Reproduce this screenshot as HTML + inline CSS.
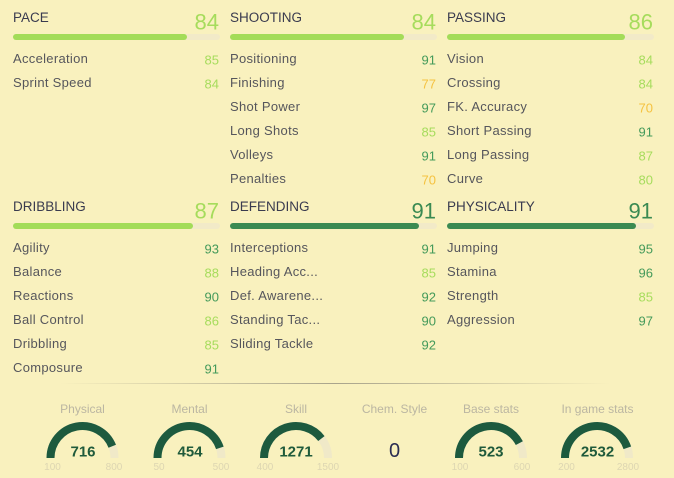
<!DOCTYPE html>
<html><head><meta charset="utf-8"><style>
html,body{margin:0;padding:0;background:#f9f1be;}
svg{display:block;}
text{font-family:"Liberation Sans",sans-serif;}
.h{font-size:13.5px;fill:#3a3b4f;}
.big{font-size:22px;text-anchor:end;}
.l{font-size:13px;fill:#56565c;letter-spacing:0.3px;}
.v{font-size:13px;text-anchor:end;}
.lg{fill:#a6dc5c;}
.dg{fill:#449a5a;}
.yl{fill:#f5c240;}
.gl{font-size:12px;fill:#bbb6a2;text-anchor:middle;}
.gv{font-size:15px;font-weight:bold;fill:#1f5a3b;text-anchor:middle;}
.mm{font-size:10px;fill:#ddd6b2;text-anchor:middle;}
</style></head><body>
<svg width="674" height="478" viewBox="0 0 674 478" xmlns="http://www.w3.org/2000/svg">
<defs>
<linearGradient id="dv" x1="0" x2="1" y1="0" y2="0">
<stop offset="0" stop-color="#a9a48c" stop-opacity="0"/>
<stop offset="0.5" stop-color="#a9a48c" stop-opacity="1"/>
<stop offset="1" stop-color="#a9a48c" stop-opacity="0"/>
</linearGradient>
</defs>
<rect width="674" height="478" fill="#f9f1be"/>

<!-- PACE -->
<text class="h" x="13" y="22">PACE</text>
<text class="big lg" x="219" y="29.5">84</text>
<rect x="13" y="34" width="207" height="6" rx="3" fill="#f2eac8"/>
<rect x="13" y="34" width="174" height="6" rx="3" fill="#a3dc58"/>
<text class="l" x="13" y="63">Acceleration</text><text class="v lg" x="219" y="64.5">85</text>
<text class="l" x="13" y="87">Sprint Speed</text><text class="v lg" x="219" y="88.5">84</text>

<!-- SHOOTING -->
<text class="h" x="230" y="22">SHOOTING</text>
<text class="big lg" x="436" y="29.5">84</text>
<rect x="230" y="34" width="207" height="6" rx="3" fill="#f2eac8"/>
<rect x="230" y="34" width="174" height="6" rx="3" fill="#a3dc58"/>
<text class="l" x="230" y="63">Positioning</text><text class="v dg" x="436" y="64.5">91</text>
<text class="l" x="230" y="87">Finishing</text><text class="v yl" x="436" y="88.5">77</text>
<text class="l" x="230" y="111">Shot Power</text><text class="v dg" x="436" y="112.5">97</text>
<text class="l" x="230" y="135">Long Shots</text><text class="v lg" x="436" y="136.5">85</text>
<text class="l" x="230" y="159">Volleys</text><text class="v dg" x="436" y="160.5">91</text>
<text class="l" x="230" y="183">Penalties</text><text class="v yl" x="436" y="184.5">70</text>

<!-- PASSING -->
<text class="h" x="447" y="22">PASSING</text>
<text class="big lg" x="653" y="29.5">86</text>
<rect x="447" y="34" width="207" height="6" rx="3" fill="#f2eac8"/>
<rect x="447" y="34" width="178" height="6" rx="3" fill="#a3dc58"/>
<text class="l" x="447" y="63">Vision</text><text class="v lg" x="653" y="64.5">84</text>
<text class="l" x="447" y="87">Crossing</text><text class="v lg" x="653" y="88.5">84</text>
<text class="l" x="447" y="111">FK. Accuracy</text><text class="v yl" x="653" y="112.5">70</text>
<text class="l" x="447" y="135">Short Passing</text><text class="v dg" x="653" y="136.5">91</text>
<text class="l" x="447" y="159">Long Passing</text><text class="v lg" x="653" y="160.5">87</text>
<text class="l" x="447" y="183">Curve</text><text class="v lg" x="653" y="184.5">80</text>

<!-- DRIBBLING -->
<text class="h" x="13" y="211">DRIBBLING</text>
<text class="big lg" x="219" y="218.5">87</text>
<rect x="13" y="223" width="207" height="6" rx="3" fill="#f2eac8"/>
<rect x="13" y="223" width="180" height="6" rx="3" fill="#a3dc58"/>
<text class="l" x="13" y="252">Agility</text><text class="v dg" x="219" y="253.5">93</text>
<text class="l" x="13" y="276">Balance</text><text class="v lg" x="219" y="277.5">88</text>
<text class="l" x="13" y="300">Reactions</text><text class="v dg" x="219" y="301.5">90</text>
<text class="l" x="13" y="324">Ball Control</text><text class="v lg" x="219" y="325.5">86</text>
<text class="l" x="13" y="348">Dribbling</text><text class="v lg" x="219" y="349.5">85</text>
<text class="l" x="13" y="372">Composure</text><text class="v dg" x="219" y="373.5">91</text>

<!-- DEFENDING -->
<text class="h" x="230" y="211">DEFENDING</text>
<text class="big" x="436" y="218.5" fill="#3a8a52">91</text>
<rect x="230" y="223" width="207" height="6" rx="3" fill="#f2eac8"/>
<rect x="230" y="223" width="189" height="6" rx="3" fill="#3b8a52"/>
<text class="l" x="230" y="252">Interceptions</text><text class="v dg" x="436" y="253.5">91</text>
<text class="l" x="230" y="276">Heading Acc...</text><text class="v lg" x="436" y="277.5">85</text>
<text class="l" x="230" y="300">Def. Awarene...</text><text class="v dg" x="436" y="301.5">92</text>
<text class="l" x="230" y="324">Standing Tac...</text><text class="v dg" x="436" y="325.5">90</text>
<text class="l" x="230" y="348">Sliding Tackle</text><text class="v dg" x="436" y="349.5">92</text>

<!-- PHYSICALITY -->
<text class="h" x="447" y="211">PHYSICALITY</text>
<text class="big" x="653" y="218.5" fill="#3a8a52">91</text>
<rect x="447" y="223" width="207" height="6" rx="3" fill="#f2eac8"/>
<rect x="447" y="223" width="189" height="6" rx="3" fill="#3b8a52"/>
<text class="l" x="447" y="252">Jumping</text><text class="v dg" x="653" y="253.5">95</text>
<text class="l" x="447" y="276">Stamina</text><text class="v dg" x="653" y="277.5">96</text>
<text class="l" x="447" y="300">Strength</text><text class="v lg" x="653" y="301.5">85</text>
<text class="l" x="447" y="324">Aggression</text><text class="v dg" x="653" y="325.5">97</text>

<!-- divider -->
<rect x="60" y="383" width="550" height="1" fill="url(#dv)"/>

<!-- gauges -->
<g fill="none" stroke-width="8">
<path d="M50.5 458 A32 32 0 0 1 114.5 458" stroke="#f0e9c8"/>
<path d="M50.5 458 A32 32 0 0 1 112.25 446.22" stroke="#1d5a3e"/>
<path d="M157.5 458 A32 32 0 0 1 221.5 458" stroke="#f0e9c8"/>
<path d="M157.5 458 A32 32 0 0 1 219.86 447.9" stroke="#1d5a3e"/>
<path d="M264 458 A32 32 0 0 1 328 458" stroke="#f0e9c8"/>
<path d="M264 458 A32 32 0 0 1 321.39 438.52" stroke="#1d5a3e"/>
<path d="M459 458 A32 32 0 0 1 523 458" stroke="#f0e9c8"/>
<path d="M459 458 A32 32 0 0 1 519.33 443.13" stroke="#1d5a3e"/>
<path d="M565 458 A32 32 0 0 1 629 458" stroke="#f0e9c8"/>
<path d="M565 458 A32 32 0 0 1 627.34 447.82" stroke="#1d5a3e"/>
</g>

<text class="gl" x="82.5" y="413">Physical</text>
<text class="gl" x="189.5" y="413">Mental</text>
<text class="gl" x="296" y="413">Skill</text>
<text class="gl" x="394.5" y="413">Chem. Style</text>
<text class="gl" x="491" y="413">Base stats</text>
<text class="gl" x="597.5" y="413">In game stats</text>

<text class="gv" x="83" y="456.5">716</text>
<text class="gv" x="190" y="456.5">454</text>
<text class="gv" x="296" y="456.5">1271</text>
<text x="394.5" y="457" font-size="20" fill="#2b2d52" text-anchor="middle">0</text>
<text class="gv" x="491" y="456.5">523</text>
<text class="gv" x="597.5" y="456.5">2532</text>

<text class="mm" x="52.5" y="470">100</text><text class="mm" x="114" y="470">800</text>
<text class="mm" x="159" y="470">50</text><text class="mm" x="221" y="470">500</text>
<text class="mm" x="265" y="470">400</text><text class="mm" x="328" y="470">1500</text>
<text class="mm" x="460" y="470">100</text><text class="mm" x="522" y="470">600</text>
<text class="mm" x="566.5" y="470">200</text><text class="mm" x="628" y="470">2800</text>
</svg>
</body></html>
